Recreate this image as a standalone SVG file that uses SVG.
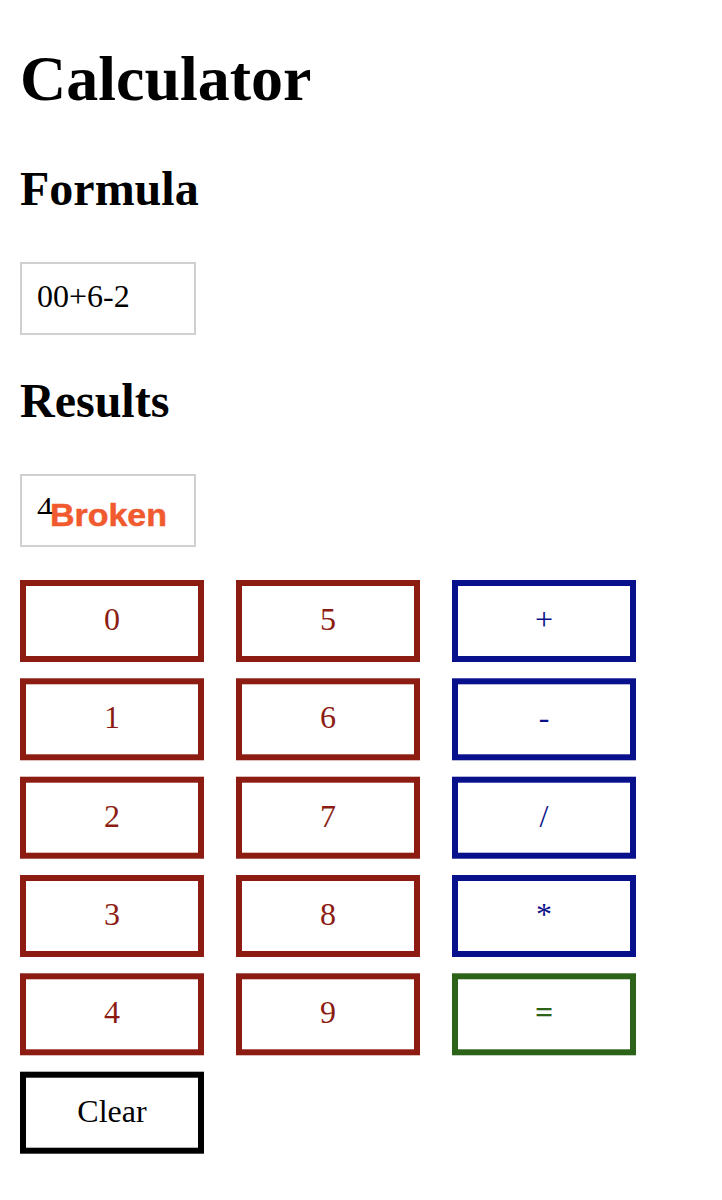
<svg xmlns="http://www.w3.org/2000/svg" width="722" height="1200" viewBox="0 0 722 1200">
<style>
text{font-family:"Liberation Serif","Times New Roman",serif}
.h1{font-size:64px;font-weight:bold}
.h2{font-size:48px;font-weight:bold}
.inp{fill:#fff;stroke:#d0d0d0;stroke-width:2}
.itxt{font-size:32px;fill:#000}
.btn{fill:#fff;stroke-width:6}
.lbl{font-size:32px;text-anchor:middle}
.num rect{stroke:#8c1c12}.num text{fill:#8c1c12}
.op rect{stroke:#08108c}.op text{fill:#08108c}
.eq rect{stroke:#2d6219}.eq text{fill:#2d6219}
.clr rect{stroke:#000}.clr text{fill:#000}
.broken{font-family:"Liberation Sans",Arial,sans-serif;font-weight:bold;font-size:31px;fill:#f15a2e;stroke:#f15a2e;stroke-width:0.5}
</style>
<defs>
<clipPath id="c4"><rect x="30" y="480" width="30" height="34"/></clipPath>
</defs>
<rect width="722" height="1200" fill="#fff"/>
<text class="h1" x="20" y="100">Calculator</text>
<text class="h2" x="20" y="205">Formula</text>
<g id="formula">
<rect class="inp" x="21" y="263" width="174" height="71"/>
<text class="itxt" x="37" y="307">00+6-2</text>
</g>
<text class="h2" x="20" y="417">Results</text>
<g id="results">
<rect class="inp" x="21" y="475" width="174" height="71"/>
<text class="itxt" x="37" y="519" clip-path="url(#c4)">4</text>
<text class="broken" x="50" y="526" textLength="117" lengthAdjust="spacingAndGlyphs">Broken</text>
</g>
<g id="b0" class="num"><rect class="btn" x="23" y="583" width="178" height="76"/><text class="lbl" x="112" y="630">0</text></g>
<g id="b1" class="num"><rect class="btn" x="23" y="681.3" width="178" height="76"/><text class="lbl" x="112" y="728.3">1</text></g>
<g id="b2" class="num"><rect class="btn" x="23" y="779.7" width="178" height="76"/><text class="lbl" x="112" y="826.7">2</text></g>
<g id="b3" class="num"><rect class="btn" x="23" y="878" width="178" height="76"/><text class="lbl" x="112" y="925">3</text></g>
<g id="b4" class="num"><rect class="btn" x="23" y="976.3" width="178" height="76"/><text class="lbl" x="112" y="1023.3">4</text></g>
<g id="b5" class="num"><rect class="btn" x="239" y="583" width="178" height="76"/><text class="lbl" x="328" y="630">5</text></g>
<g id="b6" class="num"><rect class="btn" x="239" y="681.3" width="178" height="76"/><text class="lbl" x="328" y="728.3">6</text></g>
<g id="b7" class="num"><rect class="btn" x="239" y="779.7" width="178" height="76"/><text class="lbl" x="328" y="826.7">7</text></g>
<g id="b8" class="num"><rect class="btn" x="239" y="878" width="178" height="76"/><text class="lbl" x="328" y="925">8</text></g>
<g id="b9" class="num"><rect class="btn" x="239" y="976.3" width="178" height="76"/><text class="lbl" x="328" y="1023.3">9</text></g>
<g id="bplus" class="op"><rect class="btn" x="455" y="583" width="178" height="76"/><text class="lbl" x="544" y="630">+</text></g>
<g id="bminus" class="op"><rect class="btn" x="455" y="681.3" width="178" height="76"/><text class="lbl" x="544" y="728.3">-</text></g>
<g id="bdiv" class="op"><rect class="btn" x="455" y="779.7" width="178" height="76"/><text class="lbl" x="544" y="826.7">/</text></g>
<g id="bmul" class="op"><rect class="btn" x="455" y="878" width="178" height="76"/><text class="lbl" x="544" y="925">*</text></g>
<g id="beq" class="eq"><rect class="btn" x="455" y="976.3" width="178" height="76"/><text class="lbl" x="544" y="1023.3" font-weight="bold">=</text></g>
<g id="bclear" class="clr"><rect class="btn" x="23" y="1074.7" width="178" height="76"/><text class="lbl" x="112" y="1121.7">Clear</text></g>
<g id="connectors"/>
</svg>
